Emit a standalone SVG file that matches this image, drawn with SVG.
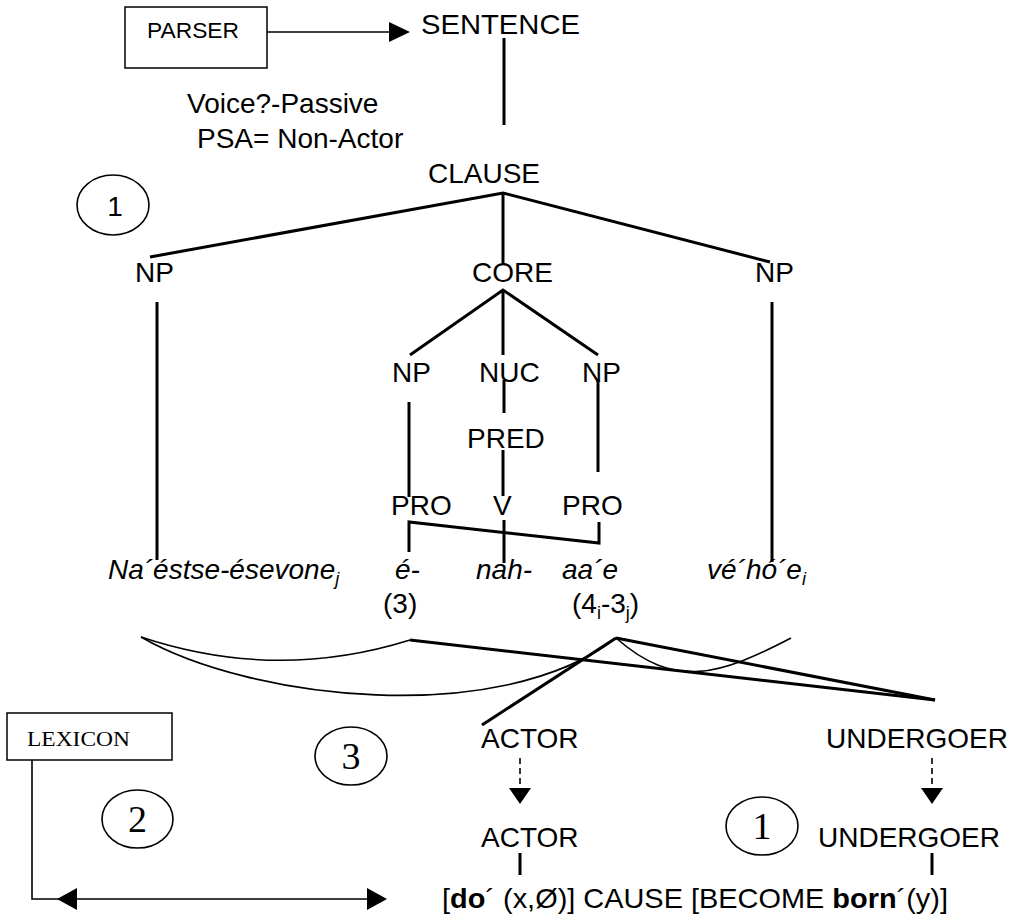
<svg xmlns="http://www.w3.org/2000/svg" width="1018" height="921" viewBox="0 0 1018 921">
  <style>
    text { font-family: "Liberation Sans", Arial, sans-serif; font-size: 28px; fill: #000; }
    .it { font-style: italic; }
    .serif { font-family: "Liberation Serif", "Times New Roman", serif; }
    .sub { font-size: 18px; }
    .thick { stroke: #000; stroke-width: 3; fill: none; }
    .thin { stroke: #000; stroke-width: 1.6; fill: none; }
    .box { stroke: #000; stroke-width: 1.5; fill: #fff; }
    .dash { stroke: #000; stroke-width: 1.6; stroke-dasharray: 6 4; fill: none; }
    .head { fill: #000; stroke: none; }
  </style>

  <!-- connectors -->
  <g id="connectors">
    <!-- parser to sentence -->
    <line class="thin" x1="267" y1="32" x2="392" y2="32"/>
    <polygon class="head" points="389,22 410,32 389,42"/>
    <!-- sentence / clause -->
    <line class="thick" x1="504" y1="38" x2="504" y2="125"/>
    <polyline class="thick" points="150,257 503,193 770,262"/>
    <line class="thick" x1="503" y1="193" x2="503" y2="263"/>
    <!-- peripheral NPs -->
    <line class="thick" x1="157" y1="302" x2="157" y2="560"/>
    <line class="thick" x1="772" y1="302" x2="772" y2="562"/>
    <!-- core -->
    <polyline class="thick" points="410,355 503,290 598,355"/>
    <line class="thick" x1="503" y1="290" x2="503" y2="355"/>
    <line class="thick" x1="504" y1="380" x2="504" y2="413"/>
    <line class="thick" x1="409" y1="402" x2="409" y2="497"/>
    <line class="thick" x1="598" y1="380" x2="598" y2="472"/>
    <line class="thick" x1="503" y1="450" x2="503" y2="496"/>
    <line class="thick" x1="504" y1="520" x2="504" y2="563"/>
    <!-- pronoun bracket -->
    <polyline class="thick" points="409,552 409,522 599,543 599,522"/>
    <!-- linking curves -->
    <path class="thin" d="M141,637 Q276,682 410,640"/>
    <path class="thin" d="M141,637 C250,700 500,728 616,638"/>
    <path class="thin" d="M616,638 C675,690 720,675 791,638"/>
    <line class="thick" x1="410" y1="640" x2="935" y2="700"/>
    <line class="thick" x1="616" y1="638" x2="935" y2="700"/>
    <line class="thick" x1="616" y1="638" x2="482" y2="725"/>
    <!-- macroroles -->
    <line class="dash" x1="520" y1="758" x2="520" y2="789"/>
    <polygon class="head" points="509,788 531,788 520,804"/>
    <line class="dash" x1="932" y1="758" x2="932" y2="789"/>
    <polygon class="head" points="921,788 943,788 932,804"/>
    <line class="thick" x1="520" y1="853" x2="520" y2="875"/>
    <line class="thick" x1="932" y1="853" x2="932" y2="875"/>
    <!-- lexicon link -->
    <polyline class="thin" points="32,760 32,899 372,899"/>
    <polygon class="head" points="57,899 77,888 77,910"/>
    <polygon class="head" points="387,899 367,888 367,910"/>
  </g>

  <g id="parser">
    <rect class="box" x="125" y="7" width="142" height="61"/>
    <text x="147" y="38" style="font-size:22px" textLength="92" lengthAdjust="spacingAndGlyphs">PARSER</text>
  </g>
  <g id="sentence"><text x="421" y="34" textLength="159" lengthAdjust="spacingAndGlyphs">SENTENCE</text></g>
  <g id="voice">
    <text x="187" y="113">Voice?-Passive</text>
    <text x="197" y="148">PSA= Non-Actor</text>
  </g>
  <g id="clause"><text x="428" y="183">CLAUSE</text></g>
  <g id="np-left"><text x="135" y="282">NP</text></g>
  <g id="core"><text x="472" y="282">CORE</text></g>
  <g id="np-right"><text x="755" y="282">NP</text></g>
  <g id="np-core-left"><text x="392" y="382">NP</text></g>
  <g id="nuc"><text x="479" y="382">NUC</text></g>
  <g id="np-core-right"><text x="582" y="382">NP</text></g>
  <g id="pred"><text x="467" y="448">PRED</text></g>
  <g id="pro-left"><text x="391" y="515">PRO</text></g>
  <g id="v"><text x="493" y="515">V</text></g>
  <g id="pro-right"><text x="562" y="515">PRO</text></g>

  <g id="words">
    <text class="it" x="108" y="579">Na´éstse-ésevone<tspan class="sub" dy="6">j</tspan></text>
    <text class="it" x="395" y="579">é-</text>
    <text class="it" x="476" y="579">nah-</text>
    <text class="it" x="562" y="579">aa´e</text>
    <text class="it" x="707" y="579">vé´hó´e<tspan class="sub" dy="6">i</tspan></text>
    <text x="383" y="613">(3)</text>
    <text x="572" y="613">(4<tspan class="sub" dy="6">i</tspan><tspan dy="-6">-3</tspan><tspan class="sub" dy="6">j</tspan><tspan dy="-6">)</tspan></text>
  </g>

  <g id="circle-1-top">
    <ellipse class="thin" cx="113" cy="205" rx="36" ry="30"/>
    <text x="115" y="216" text-anchor="middle" style="font-size:28px">1</text>
  </g>

  <g id="lexicon">
    <rect class="box" x="7" y="713" width="165" height="47"/>
    <text class="serif" x="27" y="746" style="font-size:22px" textLength="103" lengthAdjust="spacingAndGlyphs">LEXICON</text>
  </g>
  <g id="circle-2">
    <ellipse class="thin" cx="137.5" cy="819" rx="35.5" ry="29"/>
    <text class="serif" x="137.5" y="832" text-anchor="middle" style="font-size:38px">2</text>
  </g>
  <g id="circle-3">
    <ellipse class="thin" cx="351" cy="756" rx="36" ry="29"/>
    <text class="serif" x="351" y="769" text-anchor="middle" style="font-size:38px">3</text>
  </g>
  <g id="circle-1-bottom">
    <ellipse class="thin" cx="762" cy="826" rx="36" ry="29"/>
    <text class="serif" x="762" y="839" text-anchor="middle" style="font-size:38px">1</text>
  </g>

  <g id="actor-top"><text x="481" y="748">ACTOR</text></g>
  <g id="undergoer-top"><text x="826" y="748">UNDERGOER</text></g>
  <g id="actor-bottom"><text x="481" y="847">ACTOR</text></g>
  <g id="undergoer-bottom"><text x="818" y="847">UNDERGOER</text></g>
  <g id="logical-structure">
    <text x="442" y="908" textLength="506" lengthAdjust="spacingAndGlyphs">[<tspan font-weight="bold">do</tspan>´ (x,Ø)] CAUSE [BECOME <tspan font-weight="bold">born</tspan>´(y)]</text>
  </g>
</svg>
